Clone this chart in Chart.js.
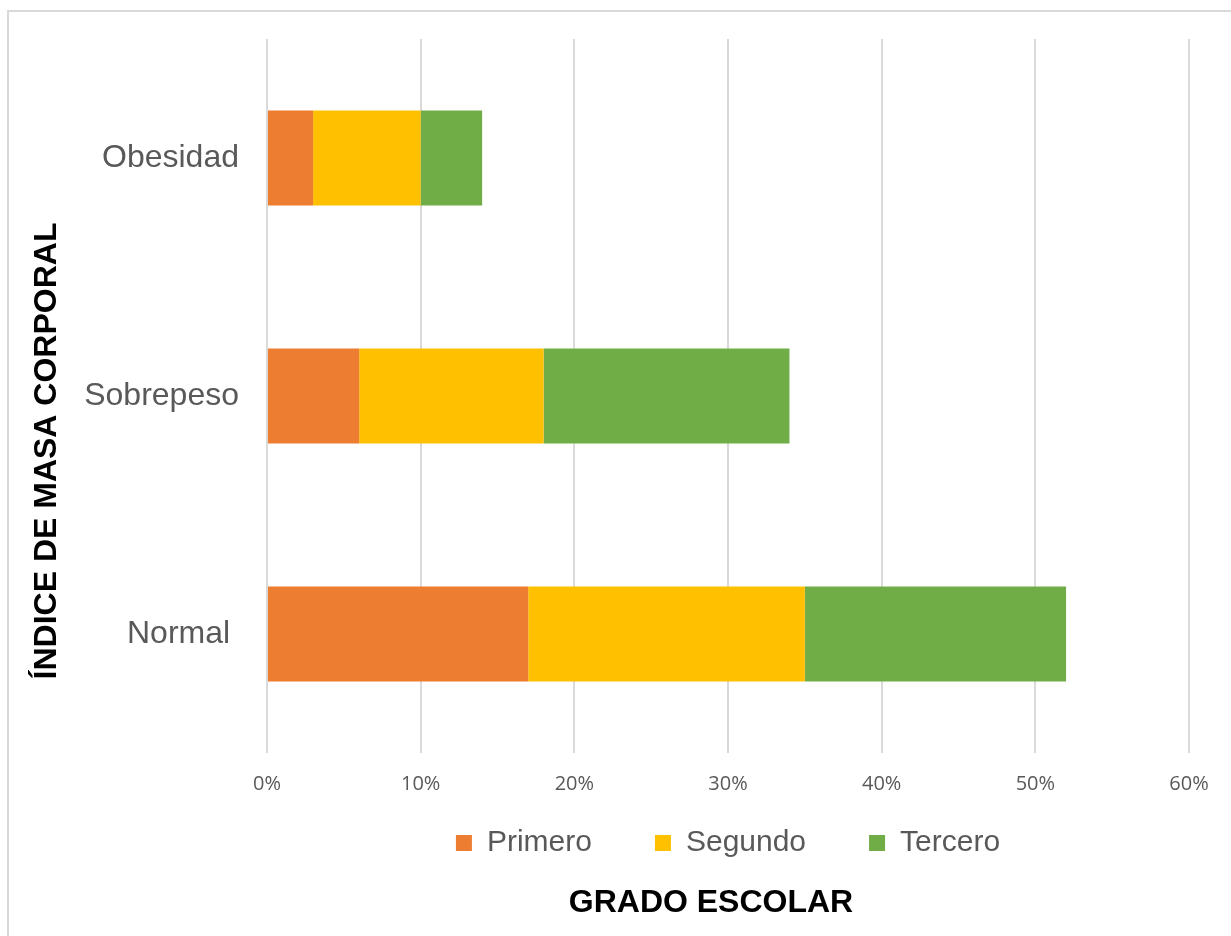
<!DOCTYPE html>
<html lang="es">
<head>
<meta charset="utf-8">
<title>Índice de masa corporal por grado escolar</title>
<script src="https://cdn.jsdelivr.net/npm/chart.js@4.4.1/dist/chart.umd.min.js"></script>
<style>
  html, body { margin: 0; padding: 0; background: #fff; overflow: hidden; }
  .frame {
    position: absolute; left: 7px; top: 10px;
    width: 1300px; height: 1000px;
    border: 2px solid #d9d9d9; box-sizing: border-box;
  }
  #imcChart { position: absolute; left: 0; top: 0; }
</style>
</head>
<body>
<div class="frame"></div>
<canvas id="imcChart" width="1231" height="936"></canvas>

<script>
// ── DATA ──
const categories = ['Obesidad', 'Sobrepeso', 'Normal '];
const seriesNames = ['Primero', 'Segundo', 'Tercero'];
const primero = [3, 6, 17];
const segundo = [7, 12, 18];
const tercero = [4, 16, 17];
const xTicks = [0, 10, 20, 30, 40, 50, 60];

const colors = ['#ED7D31', '#FFC000', '#70AD47'];
const GREY = '#595959';

// ── AXIS TITLES (drawn outside the plot) ──
const axisTitles = {
  id: 'axisTitles',
  afterLayout(chart) {
    // pull the legend row up, closer to the tick labels
    const lg = chart.legend;
    lg.top -= 38;
    lg.bottom -= 38;
  },
  afterDraw(chart) {
    const { ctx } = chart;
    ctx.save();
    ctx.fillStyle = '#000';
    ctx.font = 'bold 32px "Liberation Sans", Arial, sans-serif';
    ctx.textAlign = 'center';
    ctx.textBaseline = 'middle';
    ctx.fillText('GRADO ESCOLAR', 711, 903);

    ctx.translate(47, 451);
    ctx.rotate(-Math.PI / 2);
    ctx.fillText('ÍNDICE DE MASA CORPORAL', 0, 0);
    ctx.restore();
  }
};

function initChart() {
  const ctx = document.getElementById('imcChart');

  new Chart(ctx, {
    type: 'bar',
    data: {
      labels: categories,
      datasets: [
        { label: seriesNames[0], data: primero, backgroundColor: colors[0] },
        { label: seriesNames[1], data: segundo, backgroundColor: colors[1] },
        { label: seriesNames[2], data: tercero, backgroundColor: colors[2] }
      ]
    },
    options: {
      indexAxis: 'y',
      responsive: false,
      animation: false,
      devicePixelRatio: 1,
      barPercentage: 0.4,
      categoryPercentage: 1.0,
      layout: { padding: { top: 39, right: 42, bottom: 30, left: 0 } },
      plugins: {
        tooltip: { enabled: false },
        legend: {
          position: 'bottom',
          fullSize: false,
          labels: {
            color: GREY,
            font: { family: '"Liberation Sans", Arial, sans-serif', size: 30 },
            boxWidth: 16, boxHeight: 16,
            padding: 63
          }
        }
      },
      scales: {
        x: {
          stacked: true,
          min: 0, max: 60,
          afterBuildTicks: axis => { axis.ticks = xTicks.map(v => ({ value: v })); },
          afterFit: axis => { axis.height = 50; },
          grid: { color: '#d9d9d9', lineWidth: 2, drawTicks: false },
          border: { display: false },
          ticks: {
            color: GREY,
            padding: 19,
            font: { family: '"Open Sans", sans-serif', size: 20 },
            callback: v => v + '%'
          }
        },
        y: {
          stacked: true,
          afterFit: axis => {
            axis.width = 267;
            // labels sit mid-band, no extra room needed above/below
            axis.paddingTop = 0;
            axis.paddingBottom = 0;
          },
          grid: { display: false, drawTicks: false },
          border: { display: false },
          ticks: {
            color: GREY,
            padding: 28,
            font: { family: '"Liberation Sans", Arial, sans-serif', size: 32 }
          }
        }
      }
    },
    plugins: [axisTitles]
  });
}

initChart();
</script>
</body>
</html>
